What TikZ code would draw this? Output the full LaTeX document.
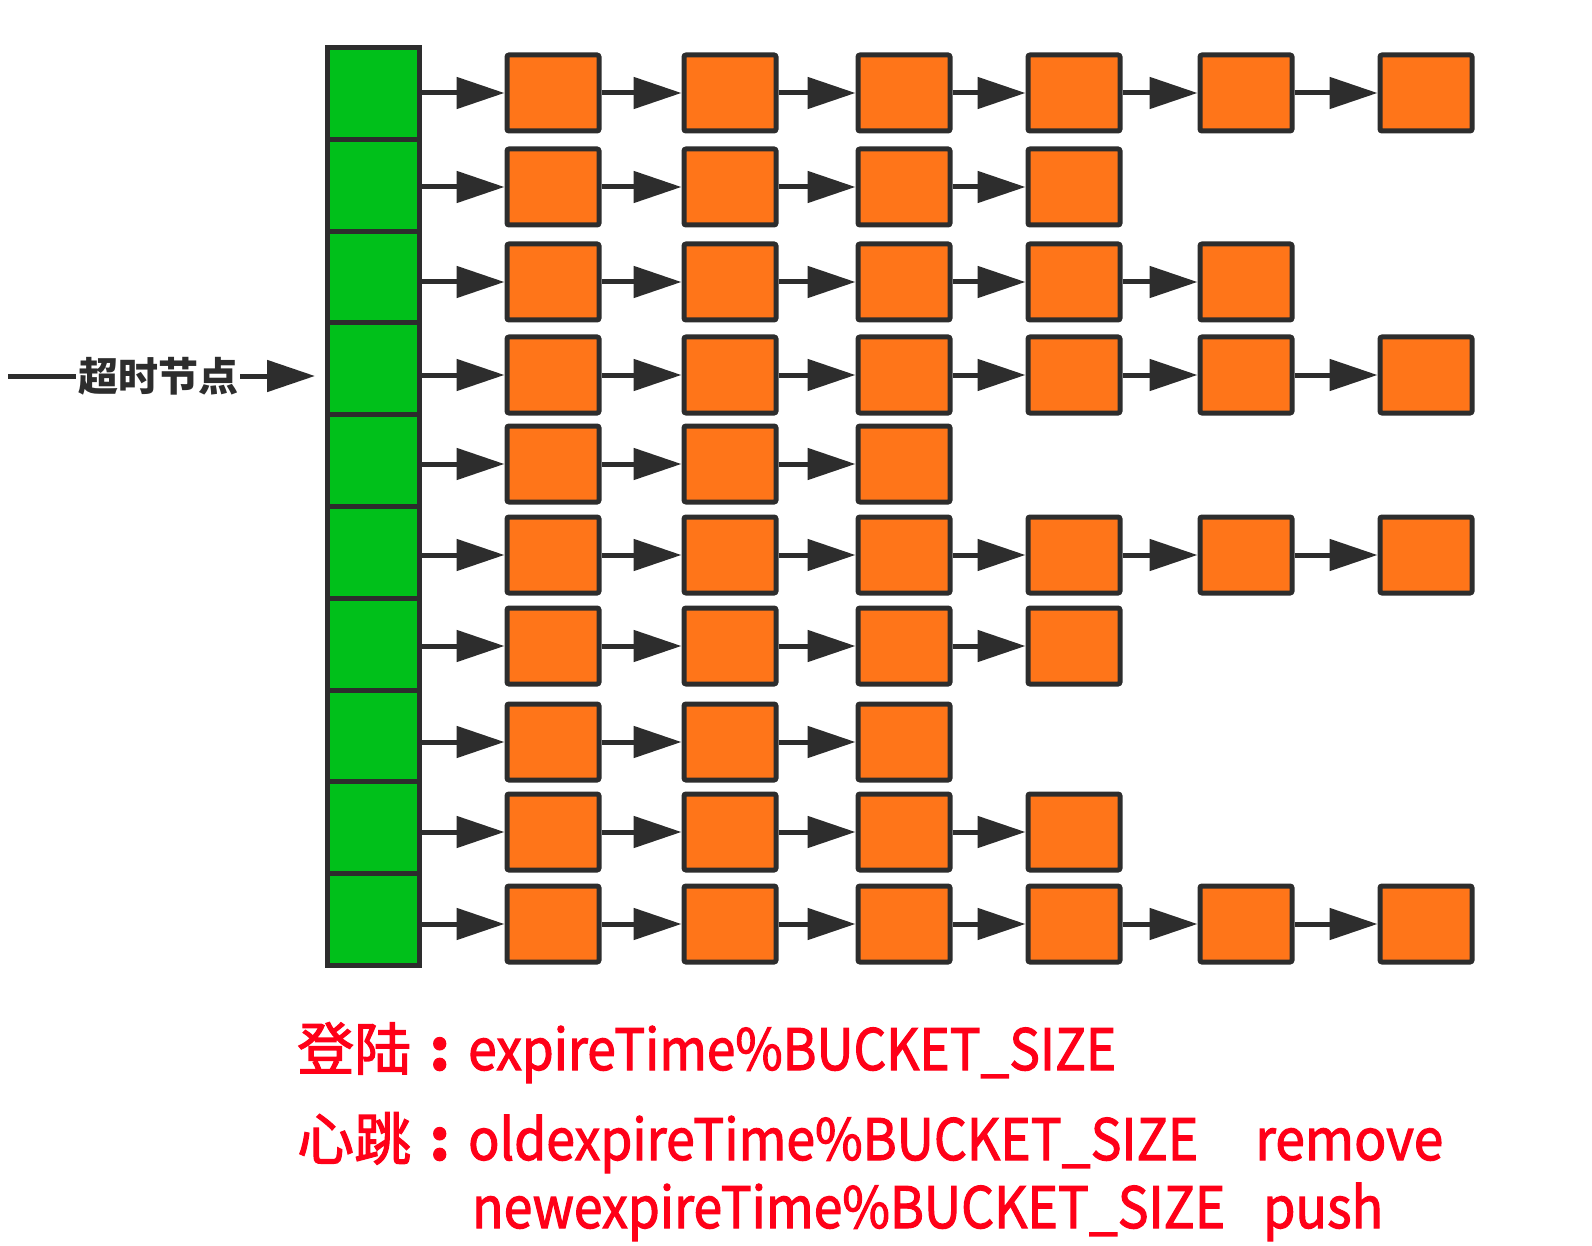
\documentclass[tikz,border=0pt]{standalone}
\usepackage{fontspec}
\usepackage{graphicx}
\setmainfont{Noto Sans CJK SC}
\newfontfamily\redfont[FakeBold=2]{Noto Sans CJK SC}
\usetikzlibrary{arrows.meta}
\definecolor{gfill}{RGB}{0,192,26}
\definecolor{ofill}{RGB}{255,117,25}
\definecolor{edge}{RGB}{45,45,45}
\definecolor{redtxt}{RGB}{255,0,24}
\newcommand{\bigcolon}{\makebox[57pt][c]{\bfseries :}}
\tikzset{
  gcell/.style={draw=edge, fill=gfill, line width=5pt, minimum width=92pt, minimum height=91.8pt, inner sep=0pt, outer sep=0pt},
  obox/.style={draw=edge, fill=ofill, line width=5pt, minimum width=92pt, minimum height=76pt, inner sep=0pt, rounded corners=2pt},
  arr/.style={draw=edge, line width=5pt, -{Triangle[length=48pt,width=31pt]}},
  plainline/.style={draw=edge, line width=5pt},
  lbl/.style={text=edge, font=\fontsize{40}{44}\selectfont\bfseries, inner sep=2pt},
  redt/.style={text=redtxt, font=\redfont\fontsize{57}{60}\selectfont, inner sep=0pt, anchor=base west}
}
\begin{document}
\begin{tikzpicture}[x=1pt, y=-1pt]
\useasboundingbox (0,0) rectangle (1592,1246);
\foreach \r/\yy/\n in {1/93/6, 2/187/4, 3/282/5, 4/375/6, 5/464/3, 6/555/6, 7/646/4, 8/742/3, 9/832/4, 10/924/6} {
  \node[gcell] (g\r) at (373.5, {93.4+91.8*(\r-1)}) {};
  \foreach \c in {1,...,\n} {
    \pgfmathsetmacro\xx{{553,730,904,1074,1246,1426}[\c-1]}
    \node[obox] (b\r-\c) at (\xx, \yy) {};
  }
  \draw[arr] (g\r.east |- b\r-1.west) -- (b\r-1.west);
  \foreach \c in {2,...,\n} {
    \pgfmathtruncatemacro\pc{\c-1}
    \draw[arr] (b\r-\pc.east) -- (b\r-\c.west);
  }
}
% label
\coordinate (ls) at (8,376);
\node[lbl] (lbl) at (158,376) {超时节点};
\coordinate (lt) at (315,376);
\draw[plainline] (ls) -- (lbl.west);
\draw[arr] (lbl.east) -- (lt);
% bottom text
\node[redt] (t1) at (297,1070) {登陆\bigcolon\resizebox{648pt}{\height}{expireTime\%BUCKET\_SIZE}};
\node[redt] (t2) at (297,1160) {心跳\bigcolon\resizebox{730pt}{\height}{oldexpireTime\%BUCKET\_SIZE}};
\node[redt] (t2r) at (1255,1160) {\resizebox{188pt}{\height}{remove}};
\node[redt] (t3) at (472,1228) {\resizebox{753pt}{\height}{newexpireTime\%BUCKET\_SIZE}};
\node[redt] (t3p) at (1263,1228) {\resizebox{120pt}{\height}{push}};
\end{tikzpicture}
\end{document}
